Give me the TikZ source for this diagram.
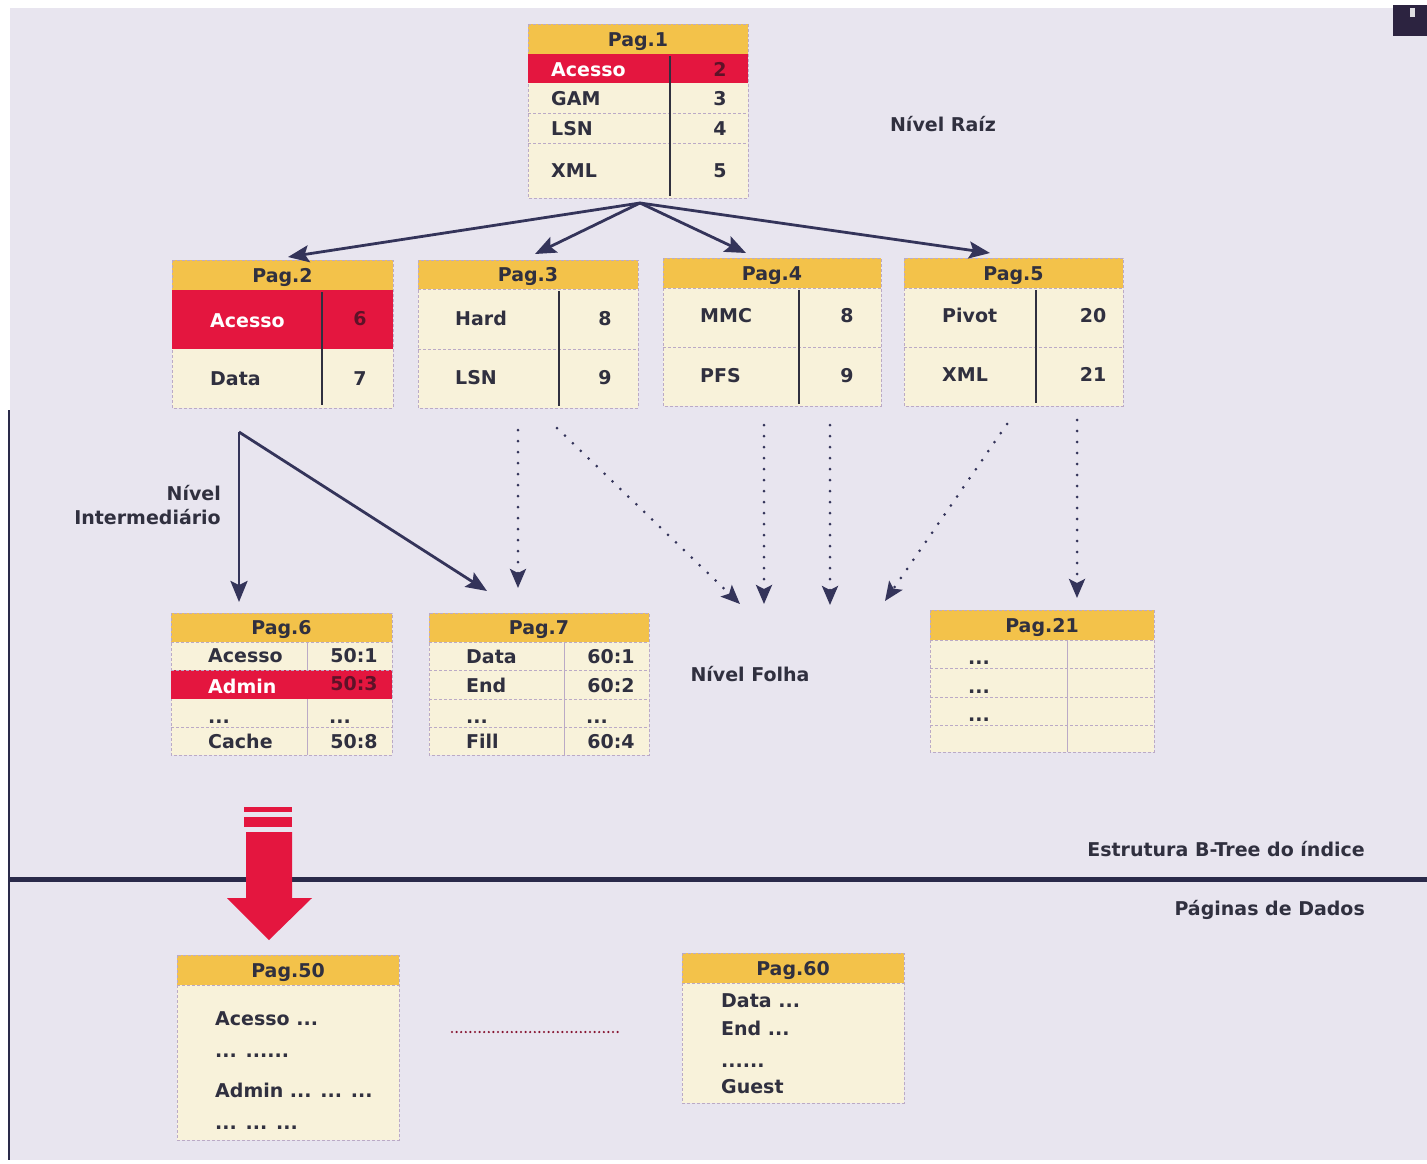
\documentclass[tikz,border=0pt]{standalone}
\usepackage{fontspec}
\setmainfont{DejaVu Sans}
\usetikzlibrary{arrows.meta}
\definecolor{bgc}{HTML}{E8E5EF}
\definecolor{hdrc}{HTML}{F3C24A}
\definecolor{cellc}{HTML}{F8F2DA}
\definecolor{redc}{HTML}{E4163F}
\definecolor{inkc}{HTML}{30303F}
\definecolor{arrc}{HTML}{34345A}
\definecolor{sepc}{HTML}{BBAAC6}
\definecolor{darkred}{HTML}{5E1228}
\definecolor{linec}{HTML}{2A2A4A}
\definecolor{cornerc}{HTML}{2C2340}
\newcommand\tf{\fontsize{19}{24}\selectfont\bfseries}
\tikzset{
 lt/.style={anchor=base west, inner sep=0pt, text=inkc, font=\tf},
 ct/.style={anchor=base, inner sep=0pt, text=inkc, font=\tf},
 rt/.style={anchor=base east, inner sep=0pt, text=inkc, font=\tf},
 sepline/.style={draw=sepc, line width=0.7pt, dash pattern=on 3pt off 2pt},
 darkdiv/.style={draw=inkc, line width=1.8pt},
 lightdiv/.style={draw=sepc, line width=0.9pt},
 treearrow/.style={draw=arrc, line width=2.8pt, -{Stealth[length=21pt,width=17pt,inset=4pt]}},
 dotarrow/.style={draw=arrc, line width=3pt, line cap=round, dash pattern=on 0pt off 11pt, -{Stealth[length=19pt,width=16pt,inset=4pt]}},
}
\newcommand\tbl[7]{%
  \fill[cellc] (#2,#3) rectangle (#4,#5);
  \fill[hdrc] (#2,#3) rectangle (#4,#6);
  \draw[sepline] (#2,#3) rectangle (#4,#5);
  \draw[sepline] (#2,#6) -- (#4,#6);
  \node[ct] (#1h) at ({(#2+#4)/2},{(#3+#6)/2+7}) {#7};
}
\begin{document}
\begin{tikzpicture}[x=1pt,y=-1pt]
\useasboundingbox (0,0) rectangle (1427,1163);
% background
\fill[white] (0,0) rectangle (1427,1163);
\fill[bgc] (10,8) rectangle (1427,1160);
\draw[linec, line width=2.5pt] (9,410) -- (9,1160);
\fill[cornerc] (1393,5) rectangle (1427,36);
\fill[white!85!cornerc] (1410,8) rectangle (1415,17);

% ---------- Pag.1 ----------
\tbl{p1}{528}{24}{748}{198}{54}{Pag.1}
\fill[redc] (528,54) rectangle (748,83);
\draw[sepline] (528,113) -- (748,113) (528,143) -- (748,143);
\draw[darkdiv] (670,56) -- (670,196);
\node[lt, text=white] (p1a) at (551,76) {Acesso};
\node[ct, text=darkred] (p1an) at (720,76) {2};
\node[lt] (p1b) at (551,105) {GAM};
\node[ct] (p1bn) at (720,105) {3};
\node[lt] (p1c) at (551,135) {LSN};
\node[ct] (p1cn) at (720,135) {4};
\node[lt] (p1d) at (551,177) {XML};
\node[ct] (p1dn) at (720,177) {5};

% ---------- Pag.2 ----------
\tbl{p2}{172}{260}{393}{408}{290}{Pag.2}
\fill[redc] (172,290) rectangle (393,349);
\draw[darkdiv] (322,292) -- (322,405);
\node[lt, text=white] (p2a) at (210,327) {Acesso};
\node[ct, text=darkred] (p2an) at (360,325) {6};
\node[lt] (p2b) at (210,385) {Data};
\node[ct] (p2bn) at (360,385) {7};

% ---------- Pag.3 ----------
\tbl{p3}{418}{260}{638}{408}{289}{Pag.3}
\draw[sepline] (418,349) -- (638,349);
\draw[darkdiv] (559,291) -- (559,406);
\node[lt] (p3a) at (455,325) {Hard};
\node[ct] (p3an) at (605,325) {8};
\node[lt] (p3b) at (455,384) {LSN};
\node[ct] (p3bn) at (605,384) {9};

% ---------- Pag.4 ----------
\tbl{p4}{663}{258}{881}{406}{288}{Pag.4}
\draw[sepline] (663,347) -- (881,347);
\draw[darkdiv] (799,290) -- (799,404);
\node[lt] (p4a) at (700,322) {MMC};
\node[ct] (p4an) at (847,322) {8};
\node[lt] (p4b) at (700,382) {PFS};
\node[ct] (p4bn) at (847,382) {9};

% ---------- Pag.5 ----------
\tbl{p5}{904}{258}{1123}{406}{288}{Pag.5}
\draw[sepline] (904,347) -- (1123,347);
\draw[darkdiv] (1036,290) -- (1036,403);
\node[lt] (p5a) at (942,322) {Pivot};
\node[ct] (p5an) at (1093,322) {20};
\node[lt] (p5b) at (942,381) {XML};
\node[ct] (p5bn) at (1093,381) {21};

% ---------- Pag.6 ----------
\tbl{p6}{171}{613}{392}{755}{642}{Pag.6}
\fill[redc] (171,670) rectangle (392,699);
\draw[sepline] (171,670) -- (392,670) (171,727) -- (392,727);
\draw[lightdiv] (307,642) -- (307,670) (307,699) -- (307,755);
\node[lt] (p6a) at (208,662) {Acesso};
\node[ct] (p6an) at (354,662) {50:1};
\node[lt, text=white] (p6b) at (208,693) {Admin};
\node[ct, text=darkred] (p6bn) at (354,690) {50:3};
\node[lt] (p6c) at (208,723) {...};
\node[ct] (p6cn) at (340,723) {...};
\node[lt] (p6d) at (208,748) {Cache};
\node[ct] (p6dn) at (354,748) {50:8};

% ---------- Pag.7 ----------
\tbl{p7}{429}{613}{649}{755}{642}{Pag.7}
\draw[sepline] (429,670) -- (649,670) (429,699) -- (649,699) (429,727) -- (649,727);
\draw[lightdiv] (564,642) -- (564,755);
\node[lt] (p7a) at (466,663) {Data};
\node[ct] (p7an) at (611,663) {60:1};
\node[lt] (p7b) at (466,692) {End};
\node[ct] (p7bn) at (611,692) {60:2};
\node[lt] (p7c) at (466,723) {...};
\node[ct] (p7cn) at (597,723) {...};
\node[lt] (p7d) at (466,748) {Fill};
\node[ct] (p7dn) at (611,748) {60:4};

% ---------- Pag.21 ----------
\tbl{p21}{930}{610}{1154}{752}{640}{Pag.21}
\draw[sepline] (930,668) -- (1154,668) (930,697) -- (1154,697) (930,725) -- (1154,725);
\draw[lightdiv] (1067,640) -- (1067,752);
\node[lt] (p21a) at (968,664) {...};
\node[lt] (p21b) at (968,693) {...};
\node[lt] (p21c) at (968,721) {...};

% ---------- Pag.50 ----------
\tbl{p50}{177}{955}{399}{1140}{985}{Pag.50}
\node[lt] (p50a) at (215,1025) {Acesso ...};
\node[lt] (p50b) at (215,1057) {... ......};
\node[lt] (p50c) at (215,1097) {Admin ... ... ...};
\node[lt] (p50d) at (215,1129) {... ... ...};

% ---------- Pag.60 ----------
\tbl{p60}{682}{953}{904}{1103}{983}{Pag.60}
\node[lt] (p60a) at (721,1007) {Data ...};
\node[lt] (p60b) at (721,1035) {End ...};
\node[lt] (p60c) at (721,1067) {......};
\node[lt] (p60d) at (721,1093) {Guest};

\coordinate (dl1) at (452,1032);
\coordinate (dl2) at (618,1032);
\draw[draw=darkred!70!redc, line width=2.4pt, line cap=round, dash pattern=on 0pt off 4.6pt] (dl1) -- (dl2);

% ---------- labels ----------
\node[ct] (lraiz) at (943,131) {Nível Raíz};
\node[rt] (linta) at (221,500) {Nível};
\node[rt] (lintb) at (221,524) {Intermediário};
\node[ct] (lfolha) at (750,681) {Nível Folha};
\node[rt] (lbtree) at (1365,856) {Estrutura B-Tree do índice};
\node[rt] (ldados) at (1365,915) {Páginas de Dados};

% ---------- separator line ----------
\coordinate (sl1) at (10,879);
\coordinate (sl2) at (1427,879);
\draw[linec, line width=5pt] (sl1) -- (sl2);

% ---------- red arrow ----------
\fill[redc] (244,807) rectangle (292,812);
\fill[redc] (244,817) rectangle (292,827);
\fill[redc] (246,832) -- (292,832) -- (292,898) -- (312,898) -- (269,940) -- (227,898) -- (246,898) -- cycle;

% ---------- tree arrows ----------
\coordinate (r0) at (640,203);
\coordinate (r2) at (288,257);
\coordinate (r3) at (535,254);
\coordinate (r4) at (746,253);
\coordinate (r5) at (990,253);
\draw[treearrow] (r0) -- (r2);
\draw[treearrow] (r0) -- (r3);
\draw[treearrow] (r0) -- (r4);
\draw[treearrow] (r0) -- (r5);

\coordinate (q0) at (239,432);
\coordinate (q6) at (239,602);
\coordinate (q7) at (487,591);
\draw[treearrow] (q0) -- (q6);
\draw[treearrow] (q0) -- (q7);

% ---------- dotted arrows ----------
\coordinate (da0) at (518,430);  \coordinate (da1) at (518,588);
\coordinate (db0) at (557,428);  \coordinate (db1) at (740,604);
\coordinate (dc0) at (764,425);  \coordinate (dc1) at (764,604);
\coordinate (dd0) at (830,425);  \coordinate (dd1) at (830,605);
\coordinate (de0) at (1007,424); \coordinate (de1) at (885,601);
\coordinate (df0) at (1077,420); \coordinate (df1) at (1077,598);
\draw[dotarrow] (da0) -- (da1);
\draw[dotarrow] (db0) -- (db1);
\draw[dotarrow] (dc0) -- (dc1);
\draw[dotarrow] (dd0) -- (dd1);
\draw[dotarrow] (de0) -- (de1);
\draw[dotarrow] (df0) -- (df1);
\end{tikzpicture}
\end{document}
